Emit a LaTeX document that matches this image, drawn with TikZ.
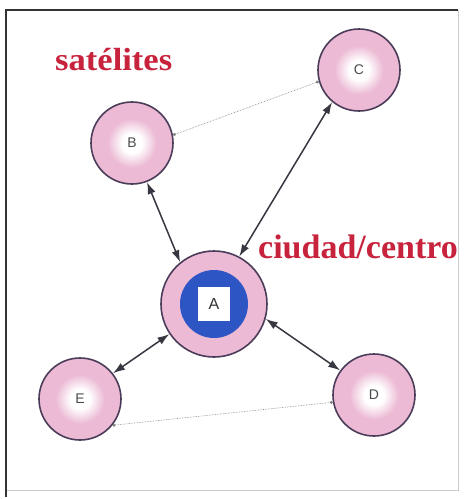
\documentclass[tikz,border=0pt]{standalone}
\usepackage{fontspec}
\setmainfont{Liberation Serif}
\setsansfont{Liberation Sans}
\usetikzlibrary{arrows.meta}
\definecolor{pinkc}{RGB}{236,186,212}
\definecolor{ringline}{RGB}{75,60,90}
\definecolor{bluec}{RGB}{45,85,195}
\definecolor{redc}{RGB}{200,35,60}
\definecolor{arrowc}{RGB}{55,55,65}
\pgfdeclareradialshading{satshade}{\pgfpoint{0bp}{0bp}}{color(0bp)=(white); color(6bp)=(white); color(15bp)=(pinkc); color(25bp)=(pinkc); color(50bp)=(pinkc)}
\begin{document}
\begin{tikzpicture}[x=1pt,y=-1pt,
  sat/.style={circle, draw=ringline, line width=1.6pt, shade, shading=satshade,
    minimum size=82pt, inner sep=0pt, font=\sffamily\fontsize{14}{14}\selectfont, text=black!70},
  hub/.style={circle, draw=ringline, line width=1.6pt, fill=pinkc, minimum size=106pt, inner sep=0pt},
  hubcore/.style={circle, fill=bluec, minimum size=68pt, inner sep=0pt},
  hubbox/.style={fill=white, minimum width=32pt, minimum height=34pt, inner sep=0pt,
    font=\sffamily\fontsize{16}{16}\selectfont, text=black!80},
  arr/.style={{Latex[length=12pt,width=8pt]}-{Latex[length=12pt,width=8pt]}, line width=1.5pt, draw=arrowc},
  dotlink/.style={{Circle[length=3pt]}-{Circle[length=3pt]}, densely dotted, line width=0.6pt, draw=black!50},
  title/.style={font=\bfseries\fontsize{#1}{#1}\selectfont, text=redc, inner sep=0pt, anchor=base west}
]
\fill[white] (0,0) rectangle (465,499);
\useasboundingbox (0,0) rectangle (465,499);
% frame
\draw[black!20, line width=0.8pt] (458,10) -- (458,490) -- (6,490);
\draw[black!80, line width=2pt] (6,497) -- (6,10) -- (458,10);
% nodes
\node[sat] (B) at (132,143) {B};
\node[sat] (C) at (359,70) {C};
\node[sat] (E) at (80,399) {E};
\node[sat] (D) at (374,395) {D};
\node[hub] (A) at (214,304) {};
\node[hubcore] (Acore) at (A.center) {};
\node[hubbox] (Abox) at (A.center) {A};
% texts
\node[title=32] (tsat) at (55,70) {\scalebox{1.08}[1]{satélites}};
\node[title=34] (tcity) at (258,258) {ciudad/centro};
% connectors
\draw[arr] (B.-69) -- (A.129);
\draw[arr] (C.230) -- (A.62);
\draw[arr] (A.-16) -- (D.144);
\draw[arr] (A.214) -- (E.38);
\draw[dotlink] (B.11) -- (C.196);
\draw[dotlink] (E.-39) -- (D.190);
\end{tikzpicture}
\end{document}
